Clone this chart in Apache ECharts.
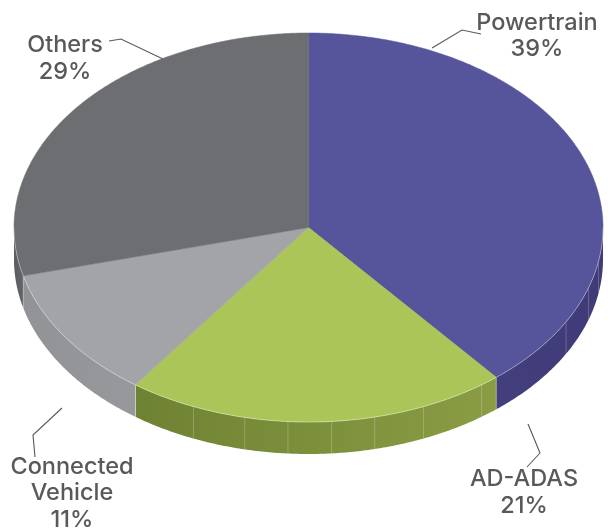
<!DOCTYPE html>
<html><head><meta charset="utf-8">
<style>html,body{margin:0;padding:0;background:#fff}#c{width:608px;height:531px}</style>
<script src="https://cdn.jsdelivr.net/npm/echarts@6/dist/echarts.min.js"></script>
</head><body><div id="c"></div>
<script>
const categories = ['Powertrain', 'AD-ADAS', 'Connected\nVehicle', 'Others'];
const shares = [39, 21, 11, 29];

const topColors = ['#56559b', '#abc558', '#a3a4a8', '#6d6e71'];
const wallStops = [['#433f7c', '#3f3b78'], ['#6e8233', '#8a9d44'], ['#929397', '#97989c'], ['#5c5d61', '#646569']];
const disc = {cx: 308.5, cy: 227.5, rx: 294.5, ry: 194.5, depth: 32};
const facetAngles = [100, 108, 119, 144, 157, 167, 175.5, 184, 192.5, 203];
const labelSpots = [[537, 36], [524, 492.5], [72, 493], [65, 58.5]];
const leaders = [
  [[432, 48], [462, 30], [481, 34]],
  [[528, 424], [540, 453], [527, 467]],
  [[62, 408], [33, 435], [35, 457]],
  [[109, 41], [121, 39], [163, 59]]
];
const total = shares.reduce((a, b) => a + b, 0);
const rimPt = (deg, drop) => {
  const t = deg * Math.PI / 180;
  return [disc.cx + disc.rx * Math.sin(t), disc.cy - disc.ry * Math.cos(t) + (drop || 0)];
};
function arcPts(a, b, drop) {
  const n = Math.max(2, Math.ceil(Math.abs(b - a) * 2));
  const pts = [];
  for (let i = 0; i <= n; i++) pts.push(rimPt(a + (b - a) * i / n, drop));
  return pts;
}
function renderSlice(params, api) {
  const i = params.dataIndex;
  let start = 0;
  for (let k = 0; k < i; k++) start += shares[k] / total * 360;
  const end = start + api.value(0) / total * 360;
  const children = [];
  // visible side wall: only the front half of the disc
  const wa = Math.max(start, 90), wb = Math.min(end, 270);
  if (wb > wa) {
    const upper = arcPts(wa, wb, 0), lower = arcPts(wa, wb, disc.depth).reverse();
    const xa = rimPt(wa)[0], xb = rimPt(wb)[0];
    const left = Math.min(xa, xb), right = Math.max(xa, xb);
    children.push({
      type: 'polygon', shape: {points: upper.concat(lower)},
      style: {fill: new echarts.graphic.LinearGradient(left, 0, right, 0,
        [{offset: 0, color: wallStops[i][0]}, {offset: 1, color: wallStops[i][1]}], true)}
    });
    facetAngles.filter(d => d > wa && d < wb).forEach(d => {
      const p = rimPt(d), q = rimPt(d, disc.depth);
      children.push({type: 'line', shape: {x1: p[0], y1: p[1], x2: q[0], y2: q[1]},
        style: {stroke: 'rgba(255,255,255,0.22)', lineWidth: 1}});
    });
    if (i > 0 && wa === start) {
      const p = rimPt(wa), q = rimPt(wa, disc.depth);
      children.push({type: 'line', shape: {x1: p[0], y1: p[1], x2: q[0], y2: q[1]},
        style: {stroke: 'rgba(255,255,255,0.35)', lineWidth: 0.8}});
    }
    if (wb === end && i === 1) {
      const p = rimPt(wb), q = rimPt(wb, disc.depth);
      children.push({type: 'line', shape: {x1: p[0], y1: p[1], x2: q[0], y2: q[1]},
        style: {stroke: 'rgba(255,255,255,0.6)', lineWidth: 0.8}});
    }
  }
  // top face
  children.push({
    type: 'polygon', shape: {points: [[disc.cx, disc.cy]].concat(arcPts(start, end, 0))},
    style: {fill: topColors[i], stroke: topColors[i], lineWidth: 0.5}
  });
  if (wb > wa) {
    children.push({type: 'polyline', shape: {points: arcPts(wa, wb, 0)},
      style: {fill: 'none', stroke: 'rgba(255,255,255,0.45)', lineWidth: 0.8}});
  }
  // leader and label
  children.push({type: 'polyline', shape: {points: leaders[i]},
    style: {fill: 'none', stroke: '#58595b', lineWidth: 1.1}});
  children.push({type: 'text', x: labelSpots[i][0], y: labelSpots[i][1],
    style: {text: categories[i] + '\n' + api.value(0) + '%', fill: '#58595b',
      font: '500 23.5px Inter', align: 'center', verticalAlign: 'middle', lineHeight: 26.5}});
  return {type: 'group', children};
}
const chart = echarts.init(document.getElementById('c'), null, {renderer: 'canvas'});
chart.setOption({
  animation: false,
  backgroundColor: '#ffffff',
  series: [{
    type: 'custom', coordinateSystem: 'none', silent: true,
    data: shares.map((v, i) => ({name: categories[i], value: [v]})),
    renderItem: renderSlice
  }]
});
</script></body></html>
